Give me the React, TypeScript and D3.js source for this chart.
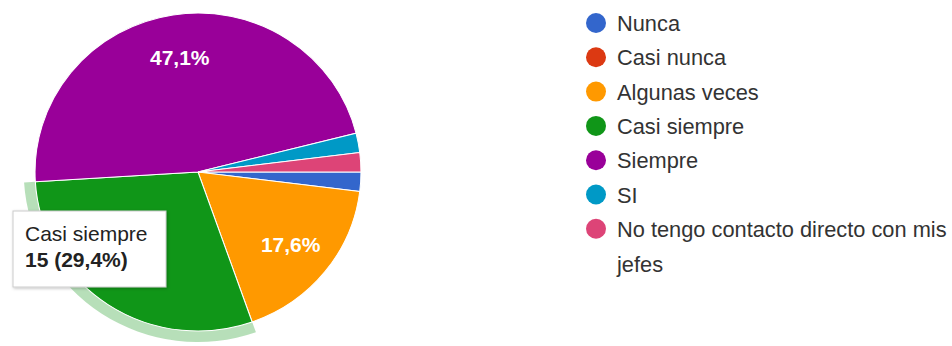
import React from 'react';
import * as d3 from 'd3';

const categories = [
  'Nunca',
  'Casi nunca',
  'Algunas veces',
  'Casi siempre',
  'Siempre',
  'SI',
  'No tengo contacto directo con mis jefes',
];
const counts = [1, 0, 9, 15, 24, 1, 1];
const colors = ['#3366cc', '#dc3912', '#ff9900', '#109618', '#990099', '#0099c6', '#dd4477'];
const legendLines = [
  ['Nunca'],
  ['Casi nunca'],
  ['Algunas veces'],
  ['Casi siempre'],
  ['Siempre'],
  ['SI'],
  ['No tengo contacto directo con mis', 'jefes'],
];
const highlighted = 'Casi siempre';

const W = 952;
const H = 346;
const cx = 198;
const cy = 172;
const r = 159;
const sx = 1.025;
const FONT = '"Liberation Sans", Arial, sans-serif';

export default function App() {
  const total = d3.sum(counts);
  const data = categories.map((c, i) => ({ name: c, value: counts[i], color: colors[i] }));
  const pie = d3
    .pie<any>()
    .value((d) => d.value)
    .sort(null)
    .startAngle(Math.PI / 2)
    .endAngle(Math.PI / 2 + 2 * Math.PI);
  const arcs = pie(data);
  const arc = d3.arc<any>().innerRadius(0).outerRadius(r);
  const ring = d3.arc<any>().innerRadius(r).outerRadius(r + 11);
  const fmt = (v: number) => (Math.round((v / total) * 1000) / 10).toFixed(1).replace('.', ',') + '%';
  const hi = arcs.find((a) => a.data.name === highlighted)!;

  const legendX = 596;
  const legendY0 = 23;
  const rowH = 34.3;

  return (
    <svg width={W} height={H} style={{ position: 'absolute', left: 0, top: 0, background: '#fff' }}>
      <defs>
        <filter id="sh" x="-20%" y="-20%" width="140%" height="140%">
          <feDropShadow dx="1" dy="1" stdDeviation="1.5" floodColor="#000" floodOpacity="0.25" />
        </filter>
      </defs>
      <g transform={`translate(${cx},${cy}) scale(${sx},1)`}>
        <path d={ring(hi) as string} fill="#109618" fillOpacity={0.3} />
        {arcs.map((a, i) =>
          a.data.value > 0 ? (
            <path key={i} d={arc(a) as string} fill={a.data.color} stroke="#fff" strokeWidth={1} />
          ) : null
        )}
      </g>
      {arcs.map((a, i) => {
        // the highlighted slice's label is covered by the tooltip
        if (a.data.value / total < 0.05 || a.data.name === highlighted) return null;
        const mid = (a.startAngle + a.endAngle) / 2;
        const rr = r * 0.73;
        const x = cx + Math.sin(mid) * rr * sx;
        const y = cy - Math.cos(mid) * rr;
        return (
          <text
            key={i}
            x={x}
            y={y + 7.5}
            textAnchor="middle"
            fill="#fff"
            fontFamily={FONT}
            fontSize={21}
            fontWeight="bold"
          >
            {fmt(a.data.value)}
          </text>
        );
      })}
      {/* tooltip */}
      <g>
        <rect x={13} y={211} width={153} height={76} fill="#fff" stroke="#cccccc" strokeWidth={1} filter="url(#sh)" />
        <text x={25} y={241} fontFamily={FONT} fontSize={21} fill="#222">
          {hi.data.name}
        </text>
        <text x={25} y={267} fontFamily={FONT} fontSize={21} fontWeight="bold" fill="#222">
          {`${hi.data.value} (${fmt(hi.data.value)})`}
        </text>
      </g>
      {/* legend */}
      {legendLines.map((lines, i) => {
        const y = legendY0 + i * rowH;
        return (
          <g key={i}>
            <circle cx={legendX} cy={y} r={10} fill={colors[i]} />
            {lines.map((t, j) => (
              <text
                key={j}
                x={617}
                y={y + 8 + j * 35}
                fontFamily={FONT}
                fontSize={21.8}
                fill="#333"
              >
                {t}
              </text>
            ))}
          </g>
        );
      })}
    </svg>
  );
}
